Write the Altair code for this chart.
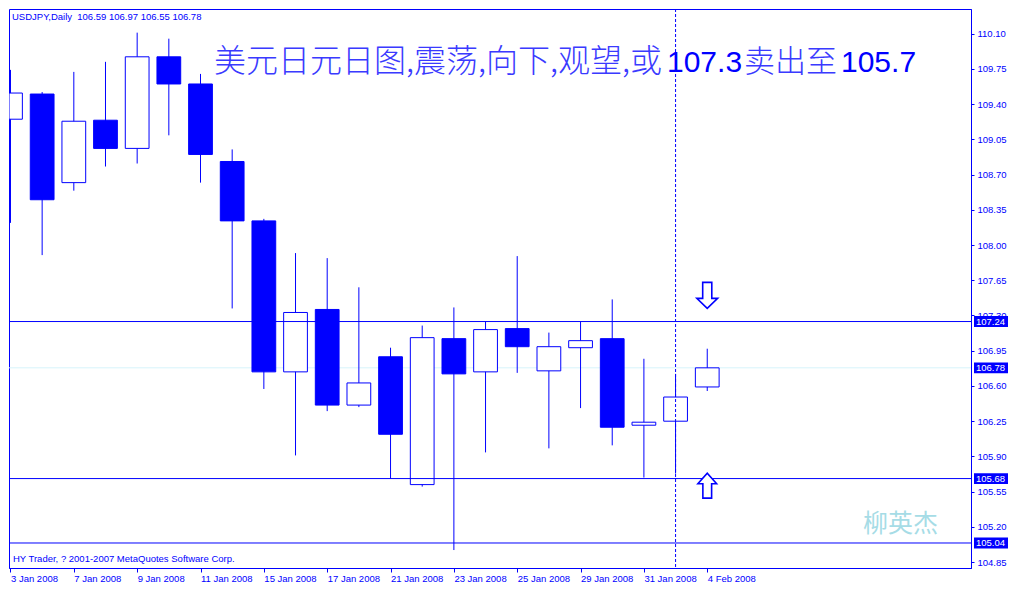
import altair as alt
import pandas as pd

# ---------------- data ----------------
dates = ["3 Jan 2008", "4 Jan 2008", "7 Jan 2008", "8 Jan 2008", "9 Jan 2008",
         "10 Jan 2008", "11 Jan 2008", "14 Jan 2008", "15 Jan 2008", "16 Jan 2008",
         "17 Jan 2008", "18 Jan 2008", "21 Jan 2008", "22 Jan 2008", "23 Jan 2008",
         "24 Jan 2008", "25 Jan 2008", "28 Jan 2008", "29 Jan 2008", "30 Jan 2008",
         "31 Jan 2008", "1 Feb 2008", "4 Feb 2008"]
opens = [109.25, 109.50, 108.62, 109.24, 108.96, 109.87, 109.60, 108.83, 108.24, 106.74,
         107.36, 106.41, 106.89, 105.62, 107.07, 106.74, 107.17, 106.75, 106.98, 107.07,
         106.21, 106.25, 106.59]
highs = [109.74, 109.52, 109.72, 109.82, 110.11, 110.05, 109.70, 108.95, 108.26, 107.92,
         107.87, 107.58, 106.98, 107.20, 107.38, 107.24, 107.89, 107.13, 107.24, 107.46,
         106.87, 106.72, 106.97]
lows = [108.22, 107.90, 108.54, 108.78, 108.81, 109.09, 108.62, 107.37, 106.57, 105.91,
        106.35, 106.39, 105.68, 105.60, 104.97, 105.94, 106.73, 105.98, 106.38, 106.01,
        105.69, 105.73, 106.55]
closes = [109.51, 108.45, 109.23, 108.96, 109.87, 109.60, 108.90, 108.24, 106.74, 107.33,
          106.41, 106.63, 106.12, 107.08, 106.72, 107.16, 106.99, 106.99, 107.05, 106.19,
          106.24, 106.49, 106.78]

level_lines = [107.24, 105.68, 105.04]
current_price = 106.78
price_ticks = [104.85, 105.20, 105.55, 105.90, 106.25, 106.60, 106.95, 107.30,
               107.65, 108.00, 108.35, 108.70, 109.05, 109.40, 109.75, 110.10]
date_tick_index = list(range(0, 23, 2))
cursor_index = 21          # 1 Feb 2008 (dashed vertical line)
arrow_index = 22           # 4 Feb 2008
arrow_down_price = 107.50
arrow_up_price = 105.61

header_text = "USDJPY,Daily\u00a0\u00a0106.59 106.97 106.55 106.78"
copyright_text = "HY Trader, ? 2001-2007 MetaQuotes Software Corp."
title_cn1 = "美元日元日图,震荡,向下,观望,或"
title_num1 = "107.3"
title_cn2 = "卖出至"
title_num2 = "105.7"
watermark = "柳英杰"

# ---------------- layout / style ----------------
BLUE = "#0000ff"
FONT = "Liberation Sans"
CJK = "Noto Sans CJK SC"
X_DOMAIN = [-0.046875, 30.328125]
Y_DOMAIN = [104.7915, 110.3449]

df = pd.DataFrame({"idx": list(range(len(dates))), "date": dates,
                   "open": opens, "high": highs, "low": lows, "close": closes})
df["dir"] = ["up" if c >= o else "down" for o, c in zip(opens, closes)]

xs = alt.Scale(domain=X_DOMAIN, nice=False, zero=False, clamp=True)
ys = alt.Scale(domain=Y_DOMAIN, nice=False, zero=False, clamp=True)

label_array = "[" + ",".join("'" + d + "'" for d in dates) + "]"
x_axis = alt.Axis(values=date_tick_index, labelExpr=label_array + "[datum.value]",
                  title=None, grid=False, orient="bottom", labelAlign="left",
                  labelBaseline="top", labelFont=FONT, labelFontSize=9.5,
                  labelColor=BLUE, tickColor=BLUE, domainColor=BLUE,
                  tickSize=4, labelPadding=1, labelOverlap=False, labelFlush=False)
y_axis = alt.Axis(values=price_ticks, format=".2f", title=None, grid=False,
                  orient="right", labelFont=FONT, labelFontSize=9.5, labelColor=BLUE,
                  tickColor=BLUE, domainColor=BLUE, tickSize=3, labelPadding=3,
                  labelOverlap=False, labelFlush=False, zindex=0)


def X(field):
    return alt.X(field, scale=xs, axis=x_axis)


def Y(field):
    return alt.Y(field, scale=ys, axis=y_axis)


base = alt.Chart(df)

wicks = base.mark_rule(color=BLUE, strokeWidth=1, clip=True).encode(
    x=X("idx:Q"), y=Y("low:Q"), y2="high:Q")

bodies = base.transform_calculate(
    left="datum.idx - 0.375", right="datum.idx + 0.375"
).mark_bar(stroke=BLUE, strokeWidth=1, clip=True).encode(
    x=X("left:Q"), x2="right:Q",
    y=Y("open:Q"), y2="close:Q",
    fill=alt.Fill("dir:N", scale=alt.Scale(domain=["up", "down"], range=["white", BLUE]),
                  legend=None),
)

cur_df = pd.DataFrame({"price": [current_price]})
cur_line = alt.Chart(cur_df).mark_rule(color="#d6f4fb", strokeWidth=1).encode(
    y=Y("price:Q"))

lvl_df = pd.DataFrame({"price": level_lines})
lvl_lines = alt.Chart(lvl_df).mark_rule(color=BLUE, strokeWidth=1).encode(
    y=Y("price:Q"))

cur_idx_df = pd.DataFrame({"idx": [cursor_index]})
vline = alt.Chart(cur_idx_df).mark_rule(color=BLUE, strokeWidth=1, strokeDash=[3, 2]).encode(
    x=X("idx:Q"))

down_path = "M-0.35,-1L0.35,-1L0.35,0.23L0.8,0.23L0,1L-0.8,0.23L-0.35,0.23Z"
up_path = "M-0.35,1L0.35,1L0.35,-0.15L0.75,-0.15L0,-1L-0.75,-0.15L-0.35,-0.15Z"
down_df = pd.DataFrame({"idx": [arrow_index], "price": [arrow_down_price]})
up_df = pd.DataFrame({"idx": [arrow_index], "price": [arrow_up_price]})
arrow_down = alt.Chart(down_df).mark_point(
    shape=down_path, size=676, filled=True, fill="white", stroke=BLUE,
    strokeWidth=1.6, opacity=1).encode(x=X("idx:Q"), y=Y("price:Q"))
arrow_up = alt.Chart(up_df).mark_point(
    shape=up_path, size=625, filled=True, fill="white", stroke=BLUE,
    strokeWidth=1.6, opacity=1).encode(x=X("idx:Q"), y=Y("price:Q"))

hl_df = pd.DataFrame({"price": level_lines + [current_price]})
hl_boxes = alt.Chart(hl_df).transform_calculate(
    lo="datum.price - 0.054", hi="datum.price + 0.054"
).mark_rect(color=BLUE, clip=False,
            x=alt.ExprRef("width + 3"), x2=alt.ExprRef("width + 37")).encode(
    y=Y("lo:Q"), y2="hi:Q")
hl_text = alt.Chart(hl_df).mark_text(
    color="white", font=FONT, fontSize=9.5, align="left", baseline="middle", clip=False,
    x=alt.ExprRef("width + 5")
).encode(y=Y("price:Q"), text=alt.Text("price:Q", format=".2f"))

one = alt.Data(values=[{"a": 1}])


def label(text, x, y, size, color, font, align="left", weight=400):
    return alt.Chart(one).mark_text(
        text=text, x=x, y=y, fontSize=size, color=color, font=font, align=align,
        baseline="alphabetic", fontWeight=weight)


header = label(header_text, 3, 11, 9.5, BLUE, FONT)
copyright_lbl = label(copyright_text, 4, alt.ExprRef("height - 6"), 9.5, BLUE, FONT)
t1 = label(title_cn1, 205, 63, 32, "#3a3aff", CJK, weight=300)
t2 = label(title_num1, 658, 63, 30, BLUE, FONT)
t3 = label(title_cn2, 735, 63, 31, "#3a3aff", CJK, weight=300)
t4 = label(title_num2, 832, 63, 30, BLUE, FONT)
wm = label(watermark, 854, alt.ExprRef("height - 36"), 25, "#a6dce6", CJK)

chart = alt.layer(
    cur_line, wicks, bodies, lvl_lines, vline, arrow_down, arrow_up,
    hl_boxes, hl_text, header, copyright_lbl, t1, t2, t3, t4, wm
).properties(
    width=1000, height=575, padding=0, background="white",
    autosize=alt.AutoSizeParams(type="fit", contains="padding")
).configure_view(
    stroke=BLUE, strokeWidth=1
)

chart.save("out.html", embed_options={"renderer": "svg", "actions": False})
